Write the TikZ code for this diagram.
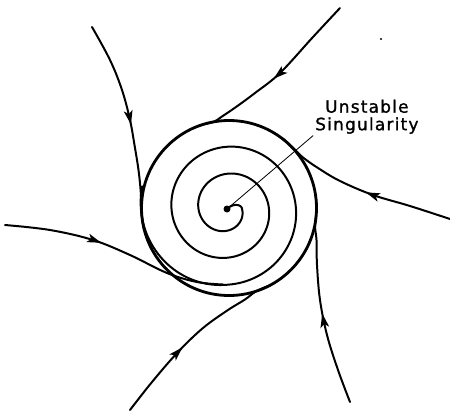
\documentclass[tikz,border=0pt]{standalone}
\usepackage{fontspec}
\newfontfamily\labelfont[LetterSpace=7,FakeBold=1.2]{DejaVu Sans}
\usetikzlibrary{arrows.meta, decorations.markings}
\tikzset{
    orbit/.style={
        line width=1.7pt,
        line join=round,
        line cap=round
    },
    flow/.style={
        orbit,
        postaction={decorate},
        decoration={markings,
            mark=at position #1 with {\arrow{Stealth[length=4.2mm,width=2.6mm,inset=1mm]}}}
    },
    flow/.default=0.5,
    limitcycle/.style={
        line width=2.4pt
    },
    leader/.style={
        line width=0.7pt
    },
    lbl/.style={
        font=\labelfont\fontsize{14.5}{15}\selectfont,
        align=center,
        inner sep=0pt
    },
    declare function={
        spr(\t)=(\t<0)*15*sin(2*(\t+45))+(\t>=0)*(15+0.075*\t+0.04*max(\t-810,0));
    }
}

\begin{document}
\begin{tikzpicture}[x=0.03cm, y=-0.03cm]
        \useasboundingbox (0,0) rectangle (450,415);

        % Singularity and spiral
        \coordinate (sing) at (227,209);
        \coordinate (cyc) at (229,208);
        \fill (sing) circle[radius=1.05mm];
        \draw[orbit] plot[domain=-45:915, samples=320, smooth, variable=\t]
            ({227+spr(\t)*cos(\t)}, {209+spr(\t)*sin(\t)});

        % Limit cycle
        \draw[limitcycle] (cyc) circle[radius=2.625cm];

        % Incoming trajectories
        \draw[flow=0.5] plot[smooth, tension=0.6] coordinates {
            (92,27) (110,60) (122,90) (130,120) (135,148) (138.5,170)
            (140.6,190) (141.4,205) (142.15,218.7) (144.1,229.2)};
        \draw[flow=0.5] plot[smooth, tension=0.6] coordinates {
            (340,8) (313,37) (280,73) (255,93) (236,107) (222,116.5)
            (213.8,121.8) (202,124.8) (192,128.7)};
        \draw[flow=0.47] plot[smooth, tension=0.6] coordinates {
            (450,219) (410,206) (373,195) (340,181) (318,168) (303,157.5)
            (294.4,149.1) (283.2,138.7)};
        \draw[flow=0.43] plot[smooth, tension=0.6] coordinates {
            (5,225) (50,230) (93,240) (130,255) (167,273) (197,282)
            (223,284.5)};
        \draw[flow=0.43] plot[smooth, tension=0.6] coordinates {
            (130,410) (152,382) (178,352) (203,328) (228,310) (245,299.5)
            (256.2,291.2) (270.3,285.2)};
        \draw[flow=0.44] plot[smooth, tension=0.6] coordinates {
            (350,402) (338,370) (327,335) (320,300) (317,265) (316.5,240)
            (315.1,226.3) (316.5,208) (315.6,195.8)};

        % Label
        \node[lbl, anchor=south west] (label) at (315,134) {Unstable\\Singularity};
        \draw[leader, shorten >=2pt] (sing) -- (label.south west);

        % Speck
        \fill (381,39) circle[radius=0.35mm];
    \end{tikzpicture}
\end{document}
